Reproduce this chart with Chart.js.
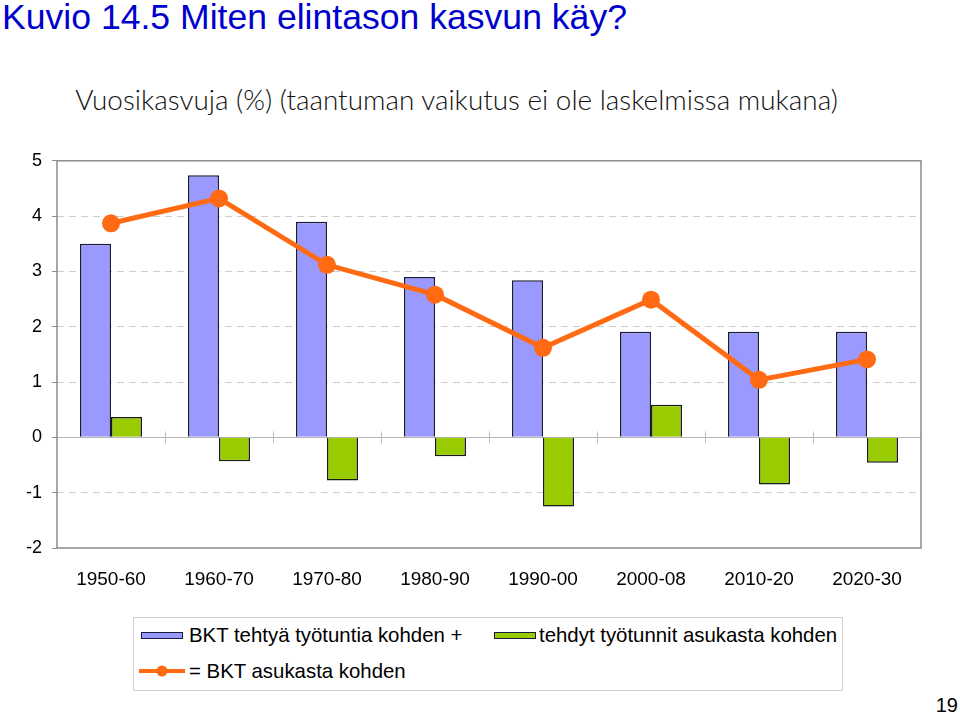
<!DOCTYPE html>
<html>
<head>
<meta charset="utf-8">
<script src="https://cdn.jsdelivr.net/npm/chart.js@4.4.1/dist/chart.umd.min.js"></script>
<style>
  body { margin: 0; background: #fff; width: 960px; height: 716px; position: relative; overflow: hidden;
         font-family: "Liberation Sans", Arial, sans-serif; }
  #title { position: absolute; left: 2px; top: -3px; font-size: 35.6px; color: #0000cc; white-space: nowrap; }
  #sub { position: absolute; left: 0; width: 913px; top: 82px; text-align: center; font-family: Lato, sans-serif;
         font-size: 27.9px; font-weight: 300; color: #111; white-space: nowrap; }
  #wrap { position: absolute; left: 0; top: 140px; width: 960px; height: 460px; }
  #legend { position: absolute; left: 133px; top: 617px; width: 708px; height: 72px; border: 1px solid #cfcfcf; }
  .item { position: absolute; font-size: 20.4px; color: #000; white-space: nowrap; line-height: 22px; }
  .sw { position: absolute; width: 40px; height: 5px; border: 1px solid #1a1a3a; }
  #page { position: absolute; right: 2px; top: 694px; font-size: 20px; color: #000; }
</style>
</head>
<body>
<div id="title">Kuvio 14.5 Miten elintason kasvun käy?</div>
<div id="sub">Vuosikasvuja (%) (taantuman vaikutus ei ole laskelmissa mukana)</div>
<div id="wrap"><canvas id="chart"></canvas></div>
<div id="legend">
  <div class="sw" style="left:7px;top:14px;background:#9999ff"></div>
  <div class="item" style="left:55px;top:6px">BKT tehtyä työtuntia kohden +</div>
  <div class="sw" style="left:360px;top:14px;background:#99cc00"></div>
  <div class="item" style="left:405px;top:6px">tehdyt työtunnit asukasta kohden</div>
  <svg style="position:absolute;left:4px;top:45px" width="48" height="16">
    <line x1="1" y1="8" x2="47" y2="8" stroke="#ff6a13" stroke-width="4"/>
    <circle cx="24" cy="8" r="5.5" fill="#ff6a13"/>
  </svg>
  <div class="item" style="left:55px;top:42px">= BKT asukasta kohden</div>
</div>
<div id="page">19</div>

<script>
// categories and values
const categories = ['1950-60', '1960-70', '1970-80', '1980-90', '1990-00', '2000-08', '2010-20', '2020-30'];
const gdpPerHour = [3.50, 4.74, 3.90, 2.90, 2.84, 1.91, 1.91, 1.91];
const hoursPerCapita = [0.37, -0.43, -0.78, -0.34, -1.25, 0.59, -0.85, -0.46];
const gdpPerCapita = [3.87, 4.32, 3.12, 2.58, 1.62, 2.49, 1.04, 1.41];
const yTicks = [-2, -1, 0, 1, 2, 3, 4, 5];

Chart.defaults.font.family = '"Liberation Sans", Arial, sans-serif';
Chart.defaults.color = '#000';

// plot frame + small category marks on the zero line
const framePlugin = {
    id: 'frame',
    beforeDatasetsDraw(chart) {
        const { ctx, chartArea: a, scales: { x, y } } = chart;
        ctx.save();
        ctx.strokeStyle = '#8a8a8a';
        ctx.lineWidth = 1.5;
        ctx.strokeRect(a.left, a.top, a.right - a.left, a.bottom - a.top);
        const y0 = y.getPixelForValue(0);
        ctx.strokeStyle = '#bdbdbd';
        ctx.lineWidth = 1;
        for (let i = 1; i < categories.length; i++) {
            const px = Math.round((x.getPixelForValue(i - 1) + x.getPixelForValue(i)) / 2) + 0.5;
            ctx.beginPath();
            ctx.moveTo(px, y0 - 6);
            ctx.lineTo(px, y0 + 6);
            ctx.stroke();
        }
        ctx.restore();
    }
};

new Chart(document.getElementById('chart'), {
    data: {
        labels: categories,
        datasets: [
            {
                type: 'line',
                label: '= BKT asukasta kohden',
                data: gdpPerCapita,
                borderColor: '#ff6a13',
                backgroundColor: '#ff6a13',
                borderWidth: 5,
                pointRadius: 9,
                pointBorderWidth: 0,
                pointBackgroundColor: '#ff6a13',
                tension: 0,
                order: 0
            },
            {
                type: 'bar',
                label: 'BKT tehtyä työtuntia kohden +',
                data: gdpPerHour,
                backgroundColor: '#9999ff',
                borderColor: '#1a1a3a',
                borderWidth: 1.5,
                categoryPercentage: 0.574,
                barPercentage: 1,
                order: 1
            },
            {
                type: 'bar',
                label: 'tehdyt työtunnit asukasta kohden',
                data: hoursPerCapita,
                backgroundColor: '#99cc00',
                borderColor: '#1a1a1a',
                borderWidth: 1.5,
                categoryPercentage: 0.574,
                barPercentage: 1,
                order: 2
            }
        ]
    },
    options: {
        responsive: true,
        maintainAspectRatio: false,
        animation: false,
        layout: { padding: { top: 19, right: 39, left: 0, bottom: 0 } },
        plugins: {
            legend: { display: false },
            tooltip: { enabled: false }
        },
        scales: {
            x: {
                grid: { display: false },
                border: { display: false },
                ticks: { font: { size: 19 }, padding: 12, maxRotation: 0 },
                afterFit: scale => { scale.height = 52; }
            },
            y: {
                min: -2,
                max: 5,
                afterBuildTicks: scale => { scale.ticks = yTicks.map(v => ({ value: v })); },
                afterFit: scale => { scale.width = 57; },
                ticks: { font: { size: 18 }, padding: 10 },
                border: {
                    display: false,
                    dash: ctx => (ctx.tick && ctx.tick.value === 0) ? [] : [7, 5]
                },
                grid: {
                    color: ctx => {
                        const v = ctx.tick ? ctx.tick.value : null;
                        if (v === 5 || v === -2) return 'rgba(0,0,0,0)';
                        return v === 0 ? '#b5b5b5' : '#cccccc';
                    },
                    tickColor: '#8a8a8a',
                    tickLength: 5,
                    lineWidth: 1
                }
            }
        }
    },
    plugins: [framePlugin]
});
</script>
</body>
</html>
